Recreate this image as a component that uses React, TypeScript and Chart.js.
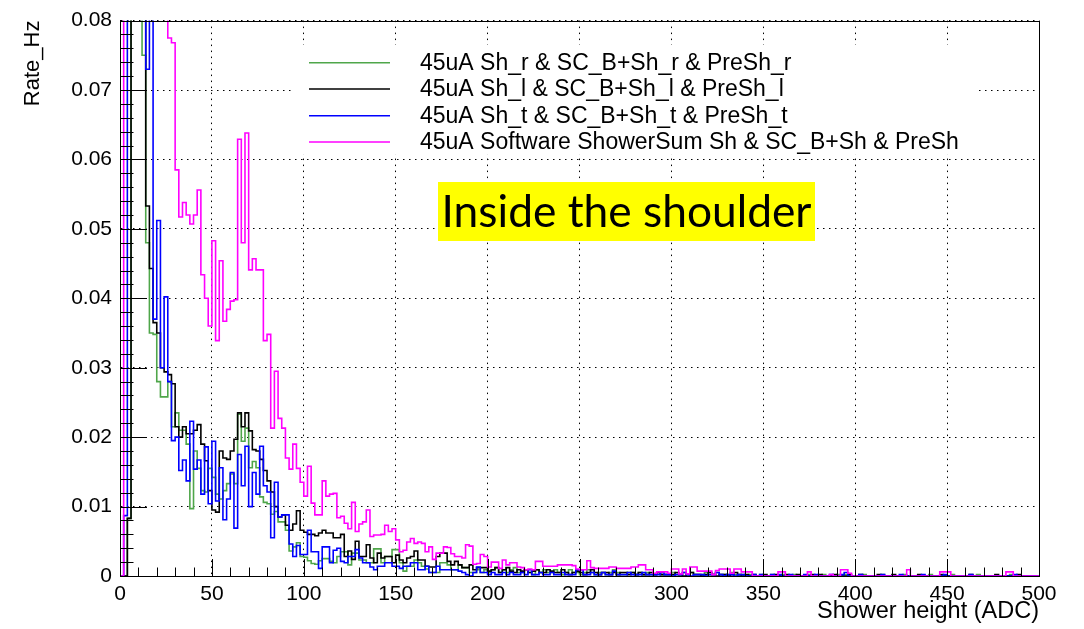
import { useEffect, useRef } from 'react';
import { Chart, registerables } from 'chart.js';

Chart.register(...registerables);

// ---- data (histograms, 2-ADC bins from 0 to 500) ----
const BIN_WIDTH = 2;
const X_MIN = 0;
const X_MAX = 500;
const Y_MIN = 0;
const Y_MAX = 0.08;
const X_TITLE = 'Shower height (ADC)';
const Y_TITLE = 'Rate_Hz';
const ANNOTATION = 'Inside the shoulder';

const seriesLabels = [
  '45uA Sh_r & SC_B+Sh_r & PreSh_r',
  '45uA Sh_l & SC_B+Sh_l & PreSh_l',
  '45uA Sh_t & SC_B+Sh_t & PreSh_t',
  '45uA Software ShowerSum Sh & SC_B+Sh & PreSh',
];
const seriesColors = ['#4fa64a', '#000000', '#0000ff', '#ff00ff'];

const shRight = [
  0, 0, 0, 0.0083, 0.12, 0.12, 0.12, 0.075, 0.048, 0.035,
  0.0348, 0.028, 0.0258, 0.0258, 0.028, 0.0215, 0.0235, 0.021, 0.021, 0.019,
  0.0097, 0.018, 0.0155, 0.0123, 0.0121, 0.0155, 0.0142, 0.0118, 0.0111, 0.0123,
  0.0133, 0.0147, 0.0133, 0.0233, 0.0194, 0.0213, 0.0156, 0.0165, 0.0156, 0.0114,
  0.0106, 0.0104, 0.0089, 0.0093, 0.0078, 0.0078, 0.0066, 0.0036, 0.0042, 0.0048,
  0.0028, 0.0027, 0.0022, 0.0018, 0.0017, 0.0022, 0.0025, 0.0025, 0.0021, 0.0019,
  0.0028, 0.0035, 0.0035, 0.0016, 0.0033, 0.0033, 0.0023, 0.0023, 0.0019, 0.0019,
  0.0039, 0.0039, 0.0019, 0.0028, 0.0028, 0.0038, 0.0038, 0.0019, 0.0007, 0.0014,
  0.0014, 0.0023, 0.0019, 0.0014, 0.001, 0.0005, 0.0005, 0.0005, 0.0019, 0.0019,
  0.0016, 0.0009, 0.0009, 0.0016, 0.0012, 0.0012, 0.0005, 0.0005, 0.0009, 0.0005,
  0.0009, 0.0005, 0.0009, 0.0012, 0.0005, 0.0009, 0.0005, 0.0009, 0.0012, 0.0005,
  0.0005, 0.0009, 0.0005, 0.0002, 0.0009, 0.0005, 0.0009, 0.0005, 0.0005, 0.0009,
  0.0005, 0.0002, 0.0005, 0.0009, 0.0005, 0.0005, 0.0002, 0.0005, 0.0009, 0.0005,
  0.0002, 0.0005, 0.0005, 0.0002, 0.0005, 0.0009, 0.0005, 0.0002, 0.0002, 0.0005,
  0.0005, 0.0002, 0.0005, 0.0002, 0.0005, 0.0002, 0.0002, 0.0005, 0.0002, 0.0002,
  0.0002, 0.0005, 0.0002, 0.0002, 0.0005, 0.0002, 0.0005, 0.0002, 0.0002, 0.0002,
  0.0005, 0.0002, 0.0002, 0.0005, 0.0002, 0.0002, 0.0002, 0.0005, 0.0002, 0,
  0.0002, 0, 0.0002, 0, 0, 0.0002, 0, 0, 0.0002, 0,
  0, 0.0002, 0, 0, 0.0002, 0, 0, 0, 0.0002, 0,
  0, 0, 0.0002, 0, 0, 0, 0.0002, 0, 0.0002, 0,
  0, 0, 0, 0.0002, 0, 0, 0, 0, 0.0002, 0,
  0, 0, 0, 0, 0.0002, 0, 0, 0, 0, 0,
  0, 0.0002, 0, 0, 0, 0, 0, 0.0002, 0, 0,
  0, 0, 0, 0, 0.0002, 0, 0, 0, 0, 0,
  0, 0, 0, 0.0002, 0, 0, 0, 0, 0, 0,
];

const shLeft = [
  0, 0, 0, 0.0083, 0.12, 0.12, 0.12, 0.12, 0.0533, 0.0443,
  0.0365, 0.035, 0.03, 0.0294, 0.029, 0.0277, 0.0215, 0.02, 0.0215, 0.0205,
  0.0205, 0.021, 0.0218, 0.019, 0.0166, 0.0123, 0.0095, 0.0092, 0.018, 0.017,
  0.0168, 0.018, 0.0197, 0.0235, 0.0215, 0.0235, 0.0209, 0.0182, 0.018, 0.0168,
  0.0152, 0.0137, 0.0121, 0.01, 0.0085, 0.0088, 0.0073, 0.0066, 0.0075, 0.0094,
  0.0066, 0.0063, 0.006, 0.006, 0.0058, 0.0062, 0.0066, 0.0062, 0.0062, 0.0055,
  0.0055, 0.006, 0.0028, 0.0036, 0.0024, 0.005, 0.0028, 0.0028, 0.0045, 0.0026,
  0.0019, 0.0033, 0.0026, 0.0028, 0.0028, 0.0019, 0.003, 0.0023, 0.0019, 0.0026,
  0.0028, 0.0036, 0.0023, 0.0023, 0.0014, 0.0013, 0.0013, 0.0028, 0.0033, 0.0033,
  0.0021, 0.0016, 0.0021, 0.0016, 0.0012, 0.0012, 0.0016, 0.0009, 0.0012, 0.0012,
  0.0012, 0.0007, 0.0009, 0.0012, 0.0005, 0.0009, 0.0012, 0.0007, 0.0005, 0.0009,
  0.0007, 0.0009, 0.0005, 0.0007, 0.0009, 0.0005, 0.0005, 0.0009, 0.0007, 0.0005,
  0.0005, 0.0009, 0.0005, 0.0002, 0.0005, 0.0007, 0.0005, 0.0002, 0.0005, 0.0009,
  0.0005, 0.0002, 0.0005, 0.0005, 0.0002, 0.0005, 0.0002, 0.0005, 0.0005, 0.0002,
  0.0005, 0.0002, 0.0005, 0.0002, 0.0002, 0.0005, 0.0002, 0.0005, 0.0002, 0.0002,
  0.0002, 0.0002, 0.0005, 0.0002, 0, 0.0002, 0.0005, 0.0002, 0.0002, 0,
  0.0002, 0.0005, 0.0002, 0, 0.0002, 0.0002, 0, 0.0002, 0.0005, 0.0002,
  0, 0.0002, 0, 0.0002, 0, 0, 0.0002, 0, 0, 0.0002,
  0, 0, 0.0002, 0, 0, 0.0002, 0, 0, 0, 0.0002,
  0, 0.0002, 0, 0, 0, 0.0002, 0, 0, 0, 0.0002,
  0, 0, 0.0002, 0, 0, 0, 0, 0.0002, 0, 0,
  0, 0.0002, 0, 0, 0, 0, 0, 0, 0.0002, 0,
  0, 0, 0, 0, 0.0002, 0, 0, 0, 0, 0,
  0, 0, 0.0002, 0, 0, 0, 0, 0, 0, 0.0002,
  0, 0, 0, 0, 0, 0.0002, 0, 0, 0, 0,
];

const shTop = [
  0, 0, 0.0087, 0.12, 0.12, 0.12, 0.12, 0.12, 0.073, 0.12,
  0.037, 0.0512, 0.03, 0.0402, 0.028, 0.0195, 0.02, 0.0152, 0.0167, 0.0137,
  0.0223, 0.0154, 0.0167, 0.0118, 0.0186, 0.0104, 0.0194, 0.0108, 0.0156, 0.0081,
  0.0111, 0.0149, 0.0069, 0.0175, 0.013, 0.0187, 0.01, 0.0149, 0.0118, 0.0187,
  0.013, 0.0121, 0.0055, 0.0135, 0.0085, 0.0088, 0.0088, 0.0046, 0.0028, 0.0044,
  0.0031, 0.0031, 0.0066, 0.0035, 0.0035, 0.0011, 0.0042, 0.0042, 0.0019, 0.0037,
  0.004, 0.0021, 0.0019, 0.0028, 0.0028, 0.0038, 0.0026, 0.0019, 0.0019, 0.0013,
  0.0009, 0.0014, 0.0014, 0.0019, 0.0019, 0.0014, 0.0014, 0.0011, 0.0014, 0.0014,
  0.0019, 0.0019, 0.0009, 0.0009, 0.0014, 0.0005, 0.0005, 0.0014, 0.0009, 0.0009,
  0.0009, 0.0009, 0.0009, 0.0007, 0.0005, 0.0002, 0, 0.0005, 0.0013, 0.0005,
  0.0005, 0.0002, 0.0005, 0.0002, 0.0002, 0.0005, 0.0002, 0.0005, 0.0002, 0.0002,
  0.0005, 0.0002, 0.0009, 0.0002, 0.0002, 0.0005, 0.0002, 0.0002, 0.0005, 0.0002,
  0.0002, 0.0005, 0.0002, 0.0002, 0.0002, 0.0009, 0.0009, 0.0002, 0.0002, 0.0005,
  0.0002, 0.0002, 0.0005, 0.0002, 0.0002, 0.0007, 0.0002, 0.0002, 0.0002, 0.0005,
  0.0002, 0.0002, 0.0002, 0.0005, 0.0002, 0.0002, 0.0002, 0.0002, 0.0005, 0.0002,
  0.0002, 0, 0.0002, 0.0002, 0.0005, 0.0002, 0, 0.0002, 0.0002, 0.0002,
  0, 0.0002, 0.0002, 0.0005, 0.0002, 0, 0.0002, 0.0002, 0, 0.0002,
  0.0002, 0, 0, 0.0002, 0, 0.0002, 0, 0, 0.0002, 0,
  0.0002, 0, 0, 0.0002, 0, 0, 0, 0.0002, 0, 0,
  0.0002, 0, 0, 0, 0.0002, 0, 0, 0.0002, 0.0005, 0,
  0, 0, 0.0002, 0, 0, 0, 0, 0, 0.0002, 0,
  0, 0, 0, 0.0002, 0, 0, 0, 0, 0, 0.0002,
  0, 0, 0, 0, 0, 0.0002, 0, 0, 0, 0,
  0, 0, 0.0002, 0, 0, 0, 0, 0, 0, 0,
  0, 0, 0, 0, 0.0002, 0, 0, 0, 0, 0,
];

const showerSum = [
  0, 0, 0.12, 0.12, 0.12, 0.12, 0.12, 0.12, 0.12, 0.12,
  0.12, 0.12, 0.12, 0.095, 0.0775, 0.0768, 0.0585, 0.0517, 0.0538, 0.052,
  0.0507, 0.052, 0.0556, 0.0434, 0.04, 0.036, 0.0483, 0.0339, 0.0454, 0.0367,
  0.0384, 0.0396, 0.0398, 0.0629, 0.048, 0.0638, 0.0441, 0.0457, 0.0441, 0.0441,
  0.0339, 0.0348, 0.0213, 0.0295, 0.0227, 0.0213, 0.017, 0.0154, 0.019, 0.0155,
  0.0135, 0.0115, 0.0158, 0.0105, 0.0088, 0.0088, 0.0137, 0.0115, 0.0118, 0.0119,
  0.0084, 0.0086, 0.0076, 0.0068, 0.0106, 0.0064, 0.0075, 0.0078, 0.0095, 0.0057,
  0.0059, 0.0059, 0.006, 0.0073, 0.0064, 0.0068, 0.0052, 0.0035, 0.0037, 0.0049,
  0.0054, 0.0047, 0.0049, 0.0047, 0.0035, 0.0042, 0.0024, 0.0033, 0.0033, 0.0042,
  0.0041, 0.0032, 0.0028, 0.0028, 0.0026, 0.0045, 0.0043, 0.0017, 0.0018, 0.0031,
  0.0028, 0.0013, 0.002, 0.002, 0.0011, 0.0023, 0.0016, 0.0019, 0.0019, 0.0013,
  0.0012, 0.0009, 0.001, 0.0009, 0.0021, 0.0021, 0.0014, 0.0014, 0.0014, 0.0014,
  0.0016, 0.0016, 0.0016, 0.0016, 0.0015, 0.001, 0.0009, 0.0009, 0.0022, 0.0012,
  0.0011, 0.0011, 0.0011, 0.0011, 0.0013, 0.0013, 0.0011, 0.0011, 0.0011, 0.0011,
  0.0013, 0.0013, 0.0016, 0.0016, 0.0009, 0.0009, 0.0004, 0.0006, 0.0006, 0.0006,
  0.0004, 0.001, 0.001, 0.0003, 0.001, 0.0003, 0.0013, 0.0013, 0.0007, 0.0007,
  0.0007, 0.0007, 0.0002, 0.0008, 0.001, 0.001, 0.001, 0.0004, 0.001, 0.001,
  0.0006, 0.0006, 0.0006, 0, 0, 0, 0, 0, 0, 0,
  0.0006, 0.0006, 0, 0, 0, 0, 0, 0, 0.0006, 0,
  0, 0, 0, 0, 0.0002, 0, 0, 0.0009, 0.0009, 0.0004,
  0, 0, 0, 0, 0, 0, 0, 0, 0, 0,
  0, 0, 0, 0, 0, 0.0009, 0, 0, 0, 0,
  0, 0, 0, 0, 0.0006, 0.0006, 0.0006, 0, 0, 0,
  0, 0, 0, 0, 0, 0, 0, 0, 0, 0,
  0, 0, 0.0006, 0.0006, 0, 0, 0, 0, 0, 0,
];

const seriesValues = [shRight, shLeft, shTop, showerSum];
// drawing order: lower = on top
const seriesOrder = [3, 2, 1, 0];

const FONT = 'Liberation Sans, Arial, Helvetica, sans-serif';

function toSteps(values: number[]) {
  const pts = values.map((v, i) => ({ x: X_MIN + i * BIN_WIDTH, y: v }));
  pts.push({ x: X_MIN + values.length * BIN_WIDTH, y: values[values.length - 1] });
  return pts;
}

const rootDecor = {
  id: 'rootDecor',
  afterDatasetsDraw(chart: any) {
    const { ctx, chartArea, scales } = chart;
    const { left, right, top, bottom } = chartArea;
    const xs = scales.x;
    const ys = scales.y;
    ctx.save();
    ctx.strokeStyle = '#000';
    ctx.lineWidth = 1;
    ctx.setLineDash([]);
    // axis ticks (ROOT style, inside the frame)
    ctx.beginPath();
    for (let v = X_MIN; v <= X_MAX; v += 10) {
      const px = Math.round(xs.getPixelForValue(v)) + 0.5;
      const len = v % 50 === 0 ? 17 : 8.5;
      ctx.moveTo(px, bottom);
      ctx.lineTo(px, bottom - len);
    }
    for (let i = 0; i <= 40; i++) {
      const py = Math.round(ys.getPixelForValue(i * 0.002)) + 0.5;
      const len = i % 5 === 0 ? 27 : 13.5;
      ctx.moveTo(left, py);
      ctx.lineTo(left + len, py);
    }
    ctx.stroke();
    // frame
    ctx.strokeRect(Math.round(left) + 0.5, Math.round(top) + 0.5, Math.round(right - left), Math.round(bottom - top));

    // legend
    ctx.fillStyle = '#fff';
    ctx.fillRect(292, 45, 683, 109);
    const rows = [62.7, 89, 115.7, 142];
    ctx.font = `23px ${FONT}`;
    ctx.textBaseline = 'middle';
    ctx.textAlign = 'left';
    rows.forEach((yy, i) => {
      ctx.strokeStyle = seriesColors[i];
      ctx.lineWidth = 1.6;
      ctx.beginPath();
      ctx.moveTo(309, yy);
      ctx.lineTo(390, yy);
      ctx.stroke();
      ctx.fillStyle = '#000';
      ctx.fillText(seriesLabels[i], 420, yy + 1);
    });

    // annotation
    const bx = 438, by = 182, bw = 377, bh = 59;
    ctx.fillStyle = '#ffff00';
    ctx.fillRect(bx, by, bw, bh);
    ctx.font = `48px Lato, "Open Sans", sans-serif`;
    const w = ctx.measureText(ANNOTATION).width;
    const size = 48 * 370 / w;
    ctx.font = `${size}px Lato, "Open Sans", sans-serif`;
    ctx.fillStyle = '#000';
    ctx.textAlign = 'center';
    ctx.textBaseline = 'alphabetic';
    ctx.fillText(ANNOTATION, bx + bw / 2, 227);
    ctx.restore();
  },
};

export default function App() {
  const canvasRef = useRef<HTMLCanvasElement | null>(null);

  useEffect(() => {
    if (!canvasRef.current) return;
    const chart = new Chart(canvasRef.current, {
      type: 'line',
      data: {
        datasets: seriesValues.map((vals, i) => ({
          label: seriesLabels[i],
          data: toSteps(vals),
          borderColor: seriesColors[i],
          backgroundColor: seriesColors[i],
          borderWidth: 1.6,
          pointRadius: 0,
          stepped: 'after' as const,
          fill: false,
          order: seriesOrder[i],
        })),
      },
      options: {
        animation: false,
        responsive: true,
        maintainAspectRatio: false,
        layout: { padding: { top: 14, right: 45, left: 0, bottom: 0 } },
        plugins: { legend: { display: false }, tooltip: { enabled: false } },
        scales: {
          x: {
            type: 'linear',
            min: X_MIN,
            max: X_MAX,
            ticks: {
              stepSize: 50,
              color: '#000',
              padding: 6,
              maxRotation: 0,
              autoSkip: false,
              font: { family: FONT, size: 21 },
              callback: (v: any) => String(v),
            },
            grid: { color: '#000', lineWidth: 1, drawTicks: false },
            border: { display: true, color: '#000', width: 1, dash: [1.5, 4.5] },
            title: {
              display: true,
              text: X_TITLE,
              align: 'end',
              color: '#000',
              font: { family: FONT, size: 23.5 },
              padding: { top: 0, bottom: 3 },
            },
            afterFit: (s: any) => { s.height = 53; },
          },
          y: {
            type: 'linear',
            min: Y_MIN,
            max: Y_MAX,
            ticks: {
              stepSize: 0.01,
              color: '#000',
              padding: 8,
              font: { family: FONT, size: 21 },
              callback: (v: any) => (Math.abs(v) < 1e-9 ? '0' : Number(v).toFixed(2)),
            },
            grid: { color: '#000', lineWidth: 1, drawTicks: false },
            border: { display: true, color: '#000', width: 1, dash: [1.5, 4.5] },
            title: {
              display: true,
              text: Y_TITLE,
              align: 'end',
              color: '#000',
              font: { family: FONT, size: 22 },
              padding: { top: 20, bottom: 0 },
            },
            afterFit: (s: any) => { s.width = 120; },
          },
        },
      },
      plugins: [rootDecor],
    });
    return () => chart.destroy();
  }, []);

  return (
    <div style={{ position: 'fixed', left: 0, top: 0, width: 1084, height: 629, background: '#fff' }}>
      <canvas ref={canvasRef} />
    </div>
  );
}
